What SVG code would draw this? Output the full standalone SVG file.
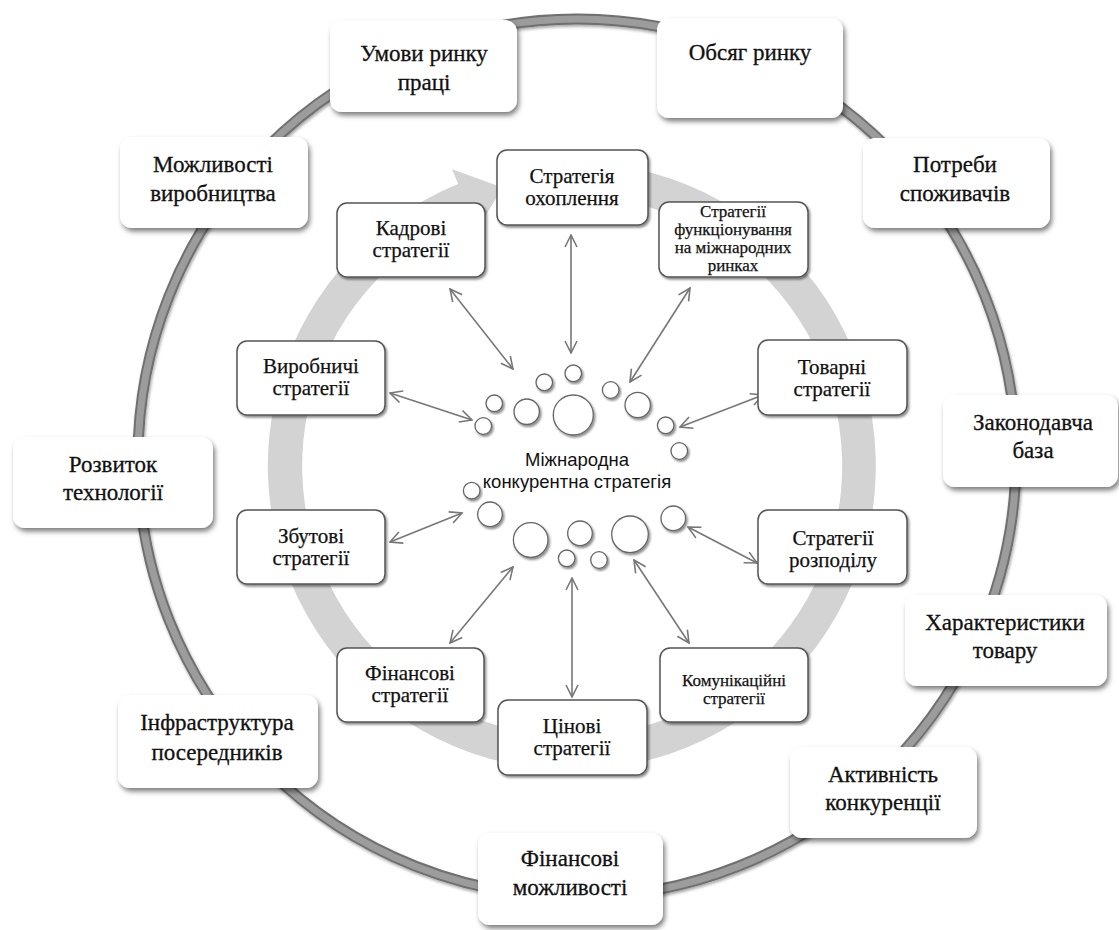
<svg xmlns="http://www.w3.org/2000/svg" width="1119" height="930" viewBox="0 0 1119 930">
<defs>
<filter id="shOuter" x="-20%" y="-20%" width="145%" height="155%"><feDropShadow dx="2" dy="3.5" stdDeviation="2.5" flood-color="#000" flood-opacity="0.5"/></filter>
<filter id="shInner" x="-10%" y="-10%" width="125%" height="130%"><feDropShadow dx="1.5" dy="2" stdDeviation="1.2" flood-color="#000" flood-opacity="0.45"/></filter>
<filter id="shRing" x="-10%" y="-10%" width="120%" height="120%"><feDropShadow dx="1" dy="2" stdDeviation="1.5" flood-color="#000" flood-opacity="0.35"/></filter>
<marker id="ah" viewBox="0 0 14 14" refX="13" refY="7" markerWidth="14" markerHeight="14" markerUnits="userSpaceOnUse" orient="auto-start-reverse"><path d="M1,1 L13,7 L1,13" fill="none" stroke="#777" stroke-width="1.6"/></marker>
</defs>
<style>
.outer rect{fill:#fff;filter:url(#shOuter)}
.outer text{font-family:"Liberation Serif","Times New Roman",serif;font-size:23px;fill:#111;stroke:#111;stroke-width:0.3;text-anchor:middle}
.inner rect{fill:#fff;stroke:#555;stroke-width:1.5;filter:url(#shInner)}
.inner text{font-family:"Liberation Serif","Times New Roman",serif;font-size:21px;fill:#111;stroke:#111;stroke-width:0.25;text-anchor:middle}
.inner text.sm{font-size:17px}
.bub circle{fill:#fff;stroke:#666;stroke-width:1.3;filter:url(#shInner)}
.conn line{stroke:#777;stroke-width:1.6;marker-start:url(#ah);marker-end:url(#ah)}
.ctext{font-family:"Liberation Sans",Arial,sans-serif;font-size:18.5px;fill:#111;text-anchor:middle}
</style>
<rect width="1119" height="930" fill="#fff"/>
<g id="outer-ring" filter="url(#shRing)">
<circle cx="577" cy="458" r="439" fill="none" stroke="#6f6f6f" stroke-width="11"/>
<circle cx="577" cy="458" r="439" fill="none" stroke="#9c9c9c" stroke-width="7"/>
</g>
<g id="inner-cycle-arrow">
<path d="M598.5,163.2 A304,304 0 1 1 458.1,184.1 L452.1,169.3 L502.6,187.5 L476.8,230.5 L470.9,215.7 A270,270 0 1 0 595.5,197 Z" fill="#d3d3d3"/>
</g>
<g id="connectors" class="conn">
<line x1="571" y1="235" x2="571" y2="353"/>
<line x1="450" y1="289" x2="513" y2="369"/>
<line x1="690" y1="288" x2="630" y2="382"/>
<line x1="390" y1="393" x2="472" y2="420"/>
<line x1="763" y1="395" x2="680" y2="427"/>
<line x1="390" y1="542" x2="462" y2="513"/>
<line x1="757" y1="563" x2="688" y2="527"/>
<line x1="450" y1="643" x2="513" y2="567"/>
<line x1="572" y1="697" x2="572" y2="578"/>
<line x1="689" y1="643" x2="634" y2="560"/>
</g>
<g id="center" >
<g class="bub">
<circle cx="573.3" cy="373.3" r="8.3"/>
<circle cx="544.3" cy="382.3" r="8.3"/>
<circle cx="494.3" cy="403.3" r="8.3"/>
<circle cx="483.3" cy="426" r="8.3"/>
<circle cx="526.7" cy="411.7" r="12.7"/>
<circle cx="573.3" cy="415" r="20"/>
<circle cx="610.7" cy="390" r="8.3"/>
<circle cx="637.7" cy="405" r="12.7"/>
<circle cx="665.7" cy="425.3" r="8.3"/>
<circle cx="679.3" cy="451" r="8.3"/>
<circle cx="471.7" cy="490.7" r="8.3"/>
<circle cx="490" cy="514.3" r="12.3"/>
<circle cx="530.7" cy="540" r="17.3"/>
<circle cx="580" cy="533.3" r="12.3"/>
<circle cx="566.7" cy="558.3" r="8.3"/>
<circle cx="599" cy="560" r="8.3"/>
<circle cx="630" cy="534.3" r="18.3"/>
<circle cx="673.3" cy="518.3" r="12.3"/>
</g>
<text class="ctext" x="577" y="466">Міжнародна</text>
<text class="ctext" x="577" y="488">конкурентна стратегія</text>
</g>
<g id="in-okhoplennia" class="inner"><rect x="497" y="150" width="151" height="75" rx="10"/><text x="572" y="183">Стратегія</text><text x="572" y="205">охоплення</text></g>
<g id="in-funktsionuvannia" class="inner"><rect x="659" y="202" width="149" height="75" rx="10"/><text class="sm" x="733" y="217">Стратегії</text><text class="sm" x="733" y="235">функціонування</text><text class="sm" x="733" y="253">на міжнародних</text><text class="sm" x="733" y="271">ринках</text></g>
<g id="in-kadrovi" class="inner"><rect x="337" y="203" width="148" height="74" rx="10"/><text x="411" y="235">Кадрові</text><text x="411" y="257">стратегії</text></g>
<g id="in-vyrobnychi" class="inner"><rect x="237" y="341" width="148" height="74" rx="10"/><text x="311" y="373">Виробничі</text><text x="311" y="395">стратегії</text></g>
<g id="in-tovarni" class="inner"><rect x="758" y="340" width="149" height="75" rx="10"/><text x="832" y="374">Товарні</text><text x="832" y="396">стратегії</text></g>
<g id="in-zbutovi" class="inner"><rect x="237" y="510" width="148" height="74" rx="10"/><text x="311" y="543">Збутові</text><text x="311" y="565">стратегії</text></g>
<g id="in-rozpodil" class="inner"><rect x="758" y="510" width="149" height="74" rx="10"/><text x="833" y="545">Стратегії</text><text x="833" y="567">розподілу</text></g>
<g id="in-finansovi" class="inner"><rect x="337" y="648" width="147" height="74" rx="10"/><text x="410" y="680">Фінансові</text><text x="410" y="702">стратегії</text></g>
<g id="in-tsinovi" class="inner"><rect x="498" y="700" width="149" height="75" rx="10"/><text x="572" y="733">Цінові</text><text x="572" y="755">стратегії</text></g>
<g id="in-komunikatsiini" class="inner"><rect x="660" y="648" width="148" height="74" rx="10"/><text class="sm" x="734" y="686">Комунікаційні</text><text class="sm" x="734" y="704">стратегії</text></g>
<g id="out-umovy" class="outer"><rect x="330" y="20" width="187" height="92" rx="12"/><text x="424" y="61">Умови ринку</text><text x="424" y="90">праці</text></g>
<g id="out-obsiah" class="outer"><rect x="657" y="18" width="186" height="100" rx="12"/><text x="750" y="60">Обсяг ринку</text></g>
<g id="out-mozhlyvosti" class="outer"><rect x="120" y="137" width="188" height="91" rx="12"/><text x="213" y="172">Можливості</text><text x="213" y="201">виробництва</text></g>
<g id="out-potreby" class="outer"><rect x="863" y="138" width="187" height="90" rx="12"/><text x="955" y="172">Потреби</text><text x="955" y="201">споживачів</text></g>
<g id="out-rozvytok" class="outer"><rect x="13" y="437" width="200" height="91" rx="12"/><text x="113" y="472">Розвиток</text><text x="113" y="500">технології</text></g>
<g id="out-zakonodavcha" class="outer"><rect x="943" y="395" width="175" height="92" rx="12"/><text x="1033" y="430">Законодавча</text><text x="1033" y="458">база</text></g>
<g id="out-kharakterystyky" class="outer"><rect x="905" y="595" width="202" height="91" rx="12"/><text x="1005" y="630">Характеристики</text><text x="1005" y="658">товару</text></g>
<g id="out-aktyvnist" class="outer"><rect x="790" y="747" width="187" height="91" rx="12"/><text x="883" y="782">Активність</text><text x="883" y="810">конкуренції</text></g>
<g id="out-finansovi" class="outer"><rect x="478" y="833" width="185" height="92" rx="12"/><text x="570" y="866">Фінансові</text><text x="570" y="895">можливості</text></g>
<g id="out-infrastruktura" class="outer"><rect x="118" y="695" width="200" height="93" rx="12"/><text x="217" y="730">Інфраструктура</text><text x="217" y="760">посередників</text></g>
</svg>
